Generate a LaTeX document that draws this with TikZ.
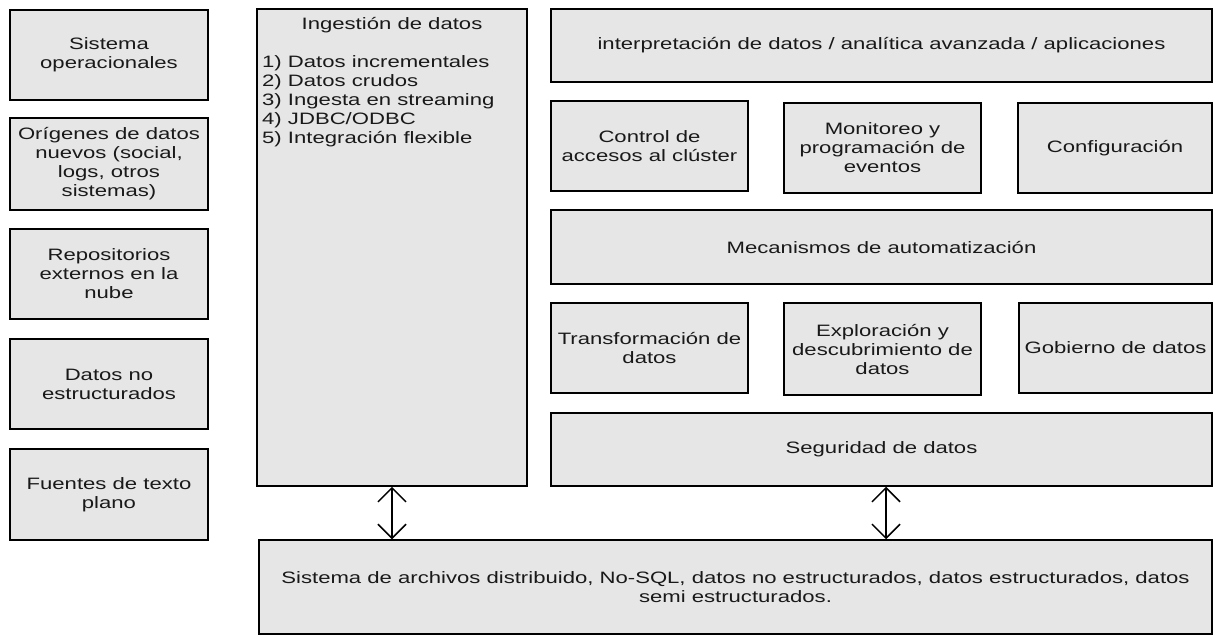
\documentclass[tikz,border=0pt]{standalone}
\usepackage{fontspec}
\setmainfont{Liberation Sans}[FakeStretch=1.34]
\usetikzlibrary{arrows.meta}
\tikzset{
  box/.style={draw=black, line width=1.5pt, fill=boxgray, inner sep=0pt, align=center, font=\fontsize{16.5}{19}\selectfont, text=black!90},
  txt/.style={inner sep=0pt, font=\fontsize{16.5}{19}\selectfont, text=black!90},
  dblarrow/.style={line width=1.5pt, {Straight Barb[length=14pt,width=28pt,line width=1.5pt]}-{Straight Barb[length=14pt,width=28pt,line width=1.5pt]}}
}
\definecolor{boxgray}{HTML}{E6E6E6}
\begin{document}
\begin{tikzpicture}[x=1pt,y=-1pt]
\useasboundingbox (0,0) rectangle (1214,635);
% left column
\node[box, minimum width=198pt, minimum height=90pt] (s1) at (109,55) {Sistema\\operacionales};
\node[box, minimum width=198pt, minimum height=92pt] (s2) at (109,164) {Orígenes de datos\\nuevos (social,\\logs, otros\\sistemas)};
\node[box, minimum width=198pt, minimum height=90pt] (s3) at (109,274) {Repositorios\\externos en la\\nube};
\node[box, minimum width=198pt, minimum height=90pt] (s4) at (109,384) {Datos no\\estructurados};
\node[box, minimum width=198pt, minimum height=91pt] (s5) at (109,494.5) {Fuentes de texto\\plano};
% ingestion
\node[box, minimum width=270pt, minimum height=477pt] (ing) at (392,247.5) {};
\node[txt, anchor=center] (ingt) at (392,25) {Ingestión de datos};
\node[txt, anchor=north west, align=left] (ingl) at (262,55) {1) Datos incrementales\\2) Datos crudos\\3) Ingesta en streaming\\4) JDBC/ODBC\\5) Integración flexible};
% right area
\node[box, minimum width=661pt, minimum height=73pt] (top) at (881.5,45.5) {interpretación de datos / analítica avanzada / aplicaciones};
\node[box, minimum width=197pt, minimum height=90pt] (ctrl) at (649.5,146) {Control de\\accesos al clúster};
\node[box, minimum width=197pt, minimum height=90pt] (mon) at (882.5,148) {Monitoreo y\\programación de\\eventos};
\node[box, minimum width=194pt, minimum height=90pt] (conf) at (1115,148) {Configuración};
\node[box, minimum width=661pt, minimum height=74pt] (mec) at (881.5,247) {Mecanismos de automatización};
\node[box, minimum width=197pt, minimum height=90pt] (tra) at (649.5,348) {Transformación de\\datos};
\node[box, minimum width=197pt, minimum height=92pt] (exp) at (882.5,349) {Exploración y\\descubrimiento de\\datos};
\node[box, minimum width=193pt, minimum height=90pt] (gob) at (1115.5,348) {Gobierno de datos};
\node[box, minimum width=661pt, minimum height=73pt] (seg) at (881.5,449.5) {Seguridad de datos};
% bottom
\node[box, minimum width=953pt, minimum height=94pt] (bot) at (735.5,587) {Sistema de archivos distribuido, No-SQL, datos no estructurados, datos estructurados, datos\\semi estructurados.};
% arrows
\coordinate (a1) at (ing.south);
\coordinate (a2) at ([xshift=4.5pt]seg.south);
\draw[dblarrow] (a1) -- (a1 |- bot.north);
\draw[dblarrow] (a2) -- (a2 |- bot.north);
\end{tikzpicture}
\end{document}
